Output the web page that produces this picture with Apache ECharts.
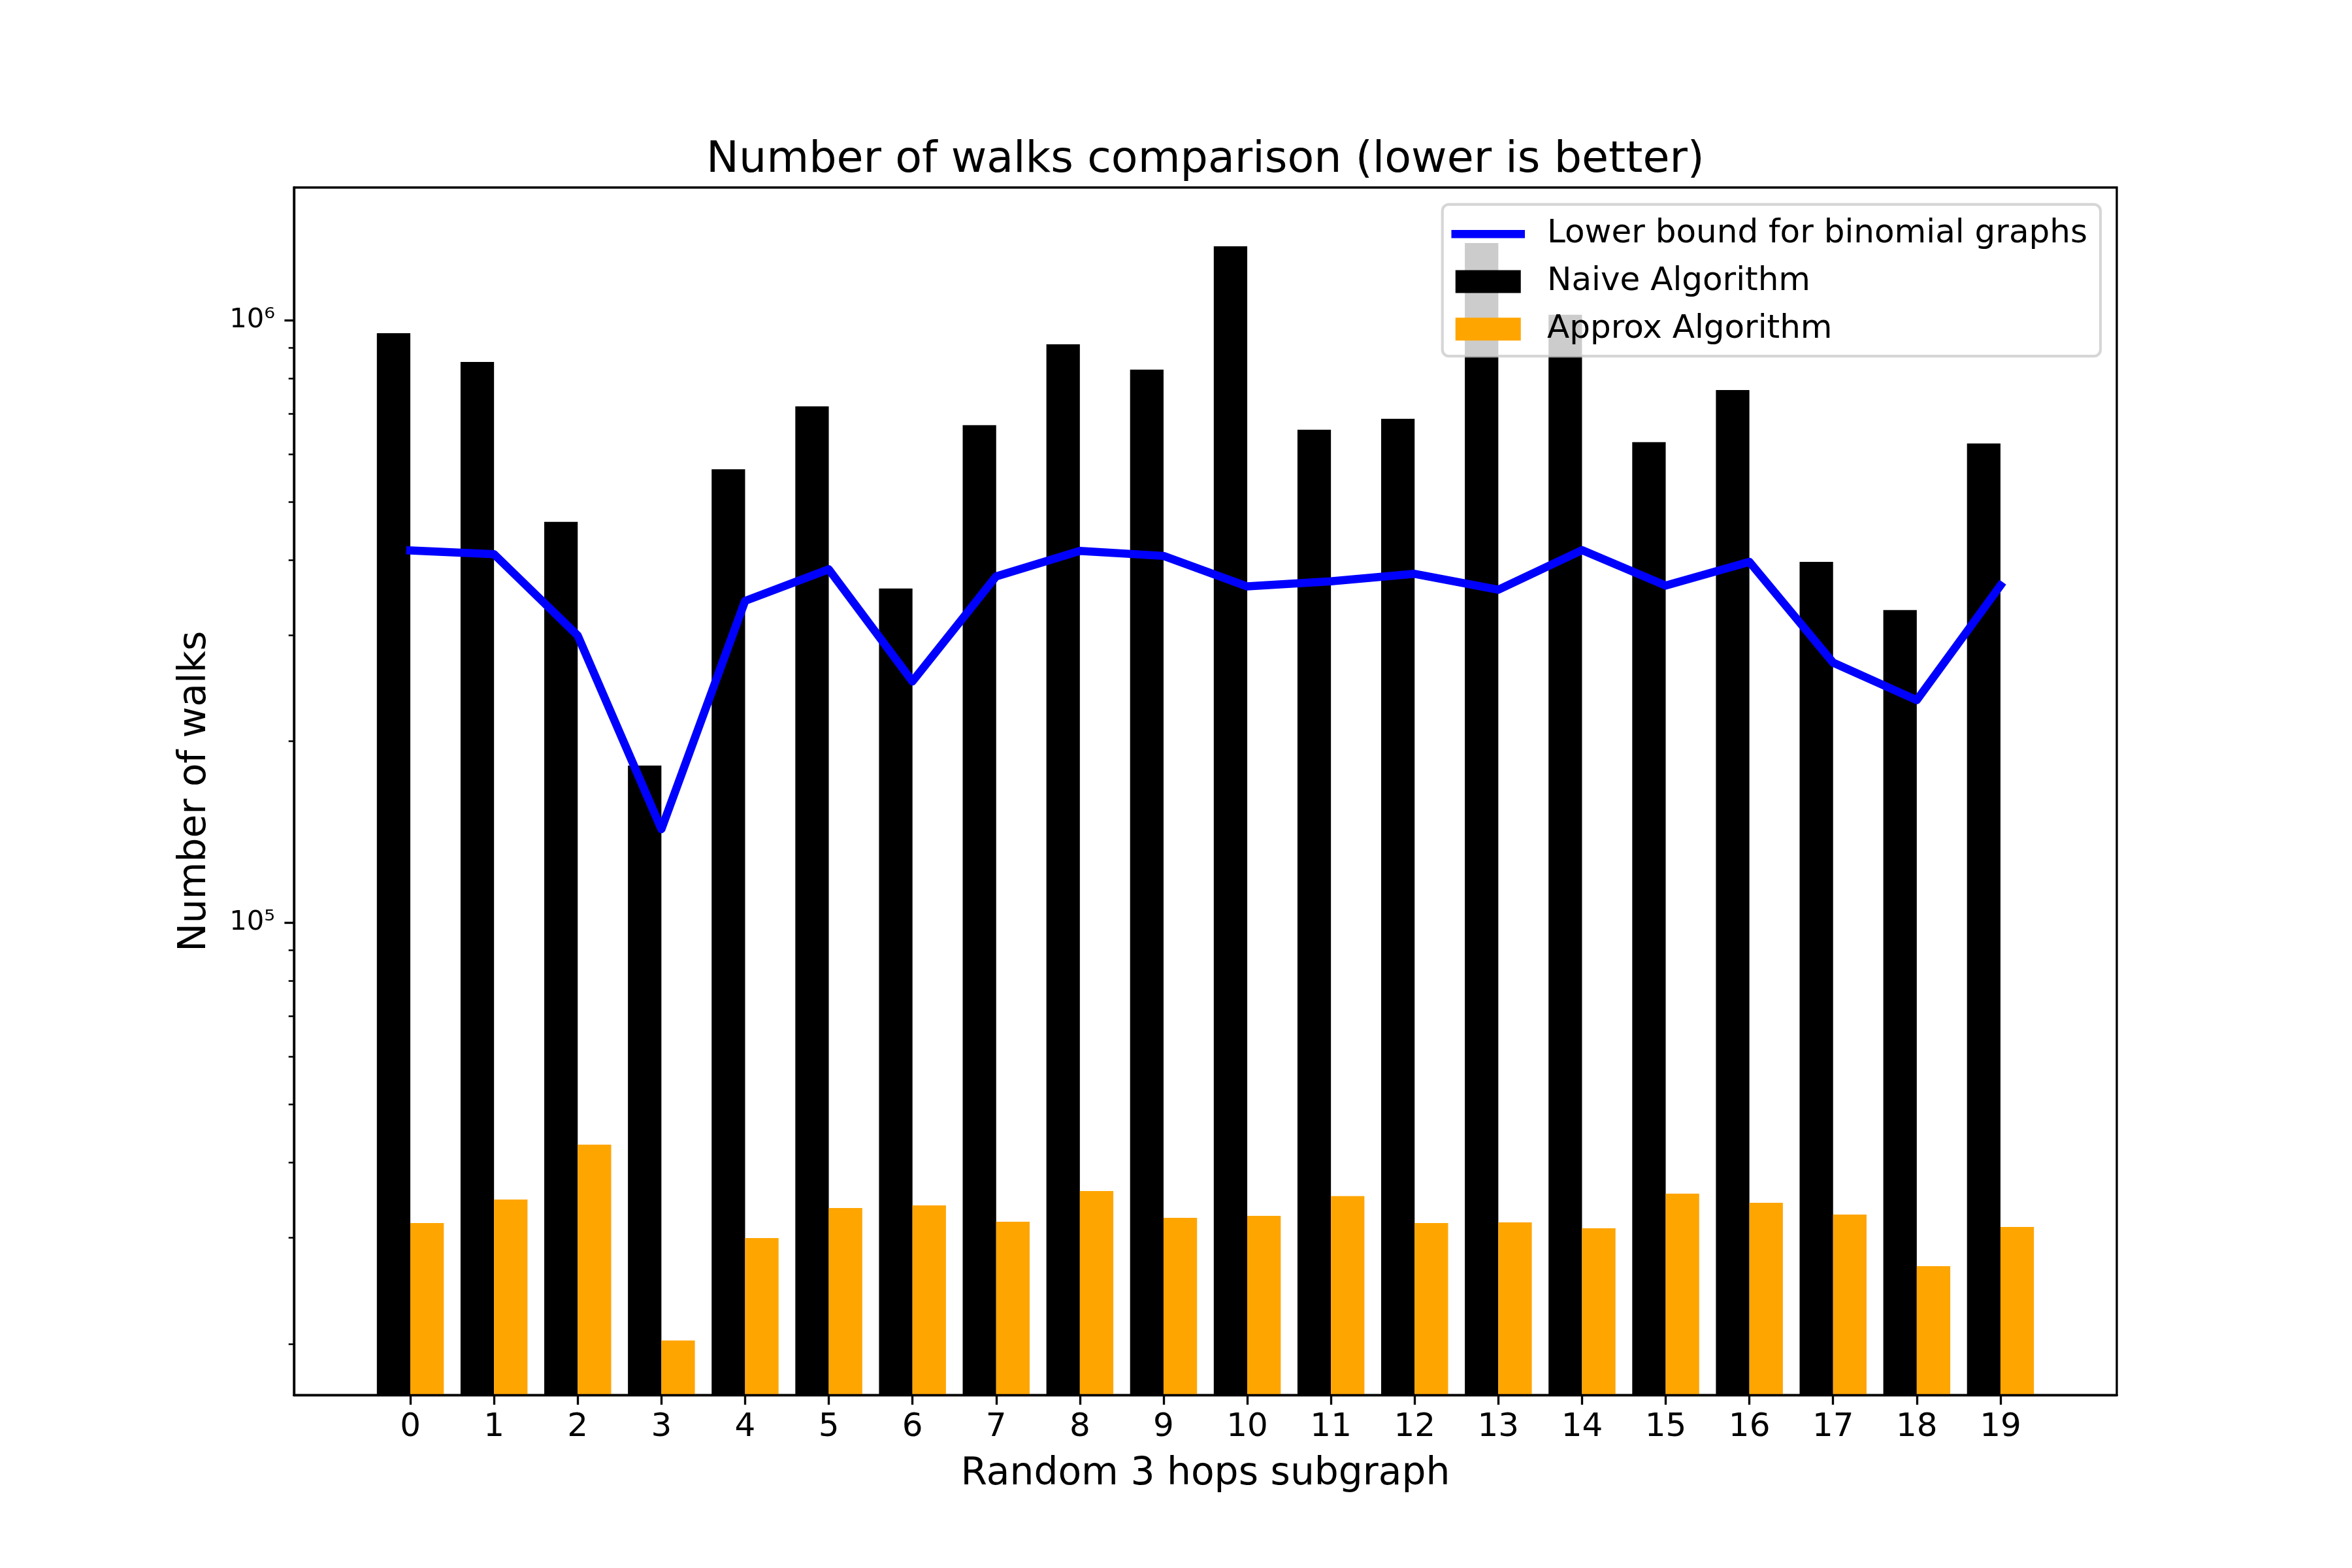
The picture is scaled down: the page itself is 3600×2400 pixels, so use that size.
<!DOCTYPE html>
<html><head><meta charset="utf-8">
<script src="https://cdn.jsdelivr.net/npm/echarts@6/dist/echarts.min.js"></script>
<style>html,body{margin:0;padding:0;background:#fff}#c{width:3600px;height:2400px}</style>
</head><body><div id="c"></div>
<script>
const categories = [0, 1, 2, 3, 4, 5, 6, 7, 8, 9, 10, 11, 12, 13, 14, 15, 16, 17, 18, 19];
const naiveWalks = [951700, 852700, 462900, 182300, 565900, 719500, 358800, 669800, 912400, 827900,
                    1326500, 658100, 686000, 1343500, 1021400, 627500, 765700, 397200, 330300, 624600];
const approxWalks = [31720, 34710, 42810, 20250, 29950, 33600, 33940, 31880, 35860, 32360,
                     32600, 35160, 31720, 31810, 31100, 35500, 34280, 32770, 26910, 31260];
const lowerBound = [414900, 408900, 299700, 143000, 342100, 386000, 251500, 375700, 414000, 406300,
                    361600, 368700, 379400, 357000, 415300, 362800, 397200, 270200, 234100, 362800];
const yMajorTicks = [100000, 1000000];
const yMinorTicks = [20000, 30000, 40000, 50000, 60000, 70000, 80000, 90000,
                     200000, 300000, 400000, 500000, 600000, 700000, 800000, 900000];
const yMin = 16430, yMax = 1661000;
const xMin = -1.39, xMax = 20.39;

const FONT = 'DejaVu Sans';
const SUP = '⁰¹²³⁴⁵⁶⁷⁸⁹';
function powLabel(v) {
  const e = Math.log10(v);
  const r = Math.round(e);
  if (Math.abs(e - r) > 1e-6) return '';
  return '10' + String(r).split('').map(d => SUP[+d]).join('');
}
const logMin = Math.log10(yMin), logMax = Math.log10(yMax);

function tickAxis(values, len, width) {
  return {
    type: 'value', min: logMin, max: logMax, position: 'left', offset: 0, z: 5,
    axisLine: {show: false, onZero: false},
    axisLabel: {show: false},
    axisTick: {show: true, customValues: values.map(Math.log10), length: len,
               lineStyle: {color: '#000', width: width}},
    splitLine: {show: false}
  };
}

const chart = echarts.init(document.getElementById('c'), null, {renderer: 'canvas'});
chart.setOption({
  animation: false,
  backgroundColor: '#ffffff',
  title: {
    text: 'Number of walks comparison (lower is better)',
    left: 1845, top: 212, textAlign: 'center', padding: 0,
    textStyle: {fontFamily: FONT, fontSize: 66.7, lineHeight: 66.7, fontWeight: 'normal', color: '#000'}
  },
  grid: {left: 450, right: 360, top: 287, bottom: 264.5, show: true,
         borderColor: '#000', borderWidth: 3.33, backgroundColor: 'transparent'},
  legend: {
    orient: 'vertical', right: 385, top: 312.8,
    padding: [16.5, 20, 12.5, 13.75],
    itemWidth: 112.5, itemHeight: 35, itemGap: 14.7,
    backgroundColor: 'rgba(255,255,255,0.8)',
    borderColor: 'rgba(204,204,204,0.8)', borderWidth: 4.2, borderRadius: 10,
    textStyle: {fontFamily: FONT, fontSize: 50, lineHeight: 58, color: '#000', padding: [0, 0, 0, 29]},
    data: [
      {name: 'Lower bound for binomial graphs', icon: 'path://M0,0M112.5,35M0,11.25H112.5V23.75H0Z'},
      {name: 'Naive Algorithm', icon: 'path://M0,0M112.5,35M6.25,0H106.25V35H6.25Z'},
      {name: 'Approx Algorithm', icon: 'path://M0,0M112.5,35M6.25,0H106.25V35H6.25Z'}
    ]
  },
  xAxis: {
    type: 'value', min: xMin, max: xMax, z: 5,
    name: 'Random 3 hops subgraph', nameLocation: 'middle', nameGap: 92,
    nameTextStyle: {fontFamily: FONT, fontSize: 58.3, lineHeight: 58.3, color: '#000'},
    axisLine: {show: true, onZero: false, lineStyle: {color: '#000', width: 3.33}},
    axisTick: {show: true, customValues: categories, length: 14.6, lineStyle: {color: '#000', width: 3.33}},
    axisLabel: {customValues: categories, margin: 25, fontFamily: FONT, fontSize: 50, lineHeight: 50, color: '#000'},
    splitLine: {show: false}
  },
  yAxis: [
    {
      type: 'log', logBase: 10, min: yMin, max: yMax, z: 5,
      name: 'Number of walks', nameLocation: 'middle', nameGap: 122,
      nameTextStyle: {fontFamily: FONT, fontSize: 58.3, lineHeight: 58.3, color: '#000'},
      axisLine: {show: true, onZero: false, lineStyle: {color: '#000', width: 3.33}},
      axisTick: {show: false},
      minorTick: {show: false},
      axisLabel: {formatter: powLabel, margin: 29, fontFamily: FONT, fontSize: 41.7, color: '#000'},
      splitLine: {show: false}, minorSplitLine: {show: false}
    },
    tickAxis(yMajorTicks, 14.6, 3.33),
    tickAxis(yMinorTicks, 8.3, 2.5)
  ],
  series: [
    {name: 'Naive Algorithm', type: 'bar', barWidth: '40%', barGap: '0%', clip: true,
     itemStyle: {color: '#000000'}, data: naiveWalks.map((v, i) => [categories[i], v])},
    {name: 'Approx Algorithm', type: 'bar', barWidth: '40%', barGap: '0%', clip: true,
     itemStyle: {color: '#ffa500'}, data: approxWalks.map((v, i) => [categories[i], v])},
    {name: 'Lower bound for binomial graphs', type: 'line', showSymbol: false, symbol: 'none', z: 3,
     lineStyle: {color: '#0000ff', width: 12.5, cap: 'square', join: 'round'},
     itemStyle: {color: '#0000ff'},
     data: lowerBound.map((v, i) => [categories[i], v])}
  ]
});
</script></body></html>
